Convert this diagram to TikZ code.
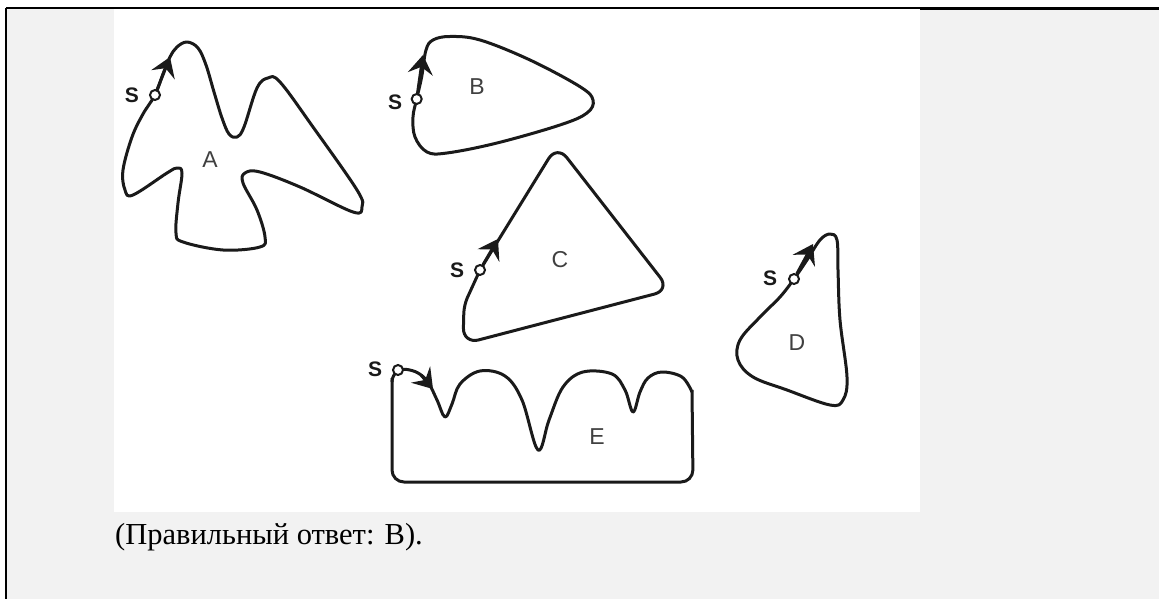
\documentclass[tikz,border=0pt]{standalone}
\usepackage{fontspec}
\setmainfont{Liberation Serif}
\setsansfont{Liberation Sans}
\usetikzlibrary{arrows.meta}
\definecolor{pagegray}{HTML}{F2F2F2}
\definecolor{ink}{HTML}{1A1A1A}
\begin{document}
\begin{tikzpicture}[x=1pt,y=-1pt,
  outline/.style={draw=ink,line width=3pt,line join=round},
  startpt/.style={circle,draw=ink,fill=white,line width=2pt,minimum size=10pt,inner sep=0pt},
  arr/.style={draw=ink,line width=3pt,-{Stealth[length=19pt,width=25pt,inset=7pt]}},
  slabel/.style={font=\sffamily\bfseries\fontsize{21}{21}\selectfont,text=ink,inner sep=0pt},
  flabel/.style={font=\sffamily\fontsize{23}{23}\selectfont,text=black!75,inner sep=0pt}]
\useasboundingbox (0,0) rectangle (1159,599);
\fill[white] (0,0) rectangle (1159,599);
\fill[pagegray] (6,8) rectangle (1159,599);
\fill[white] (114,9) rectangle (920,512);
\draw[black,line width=2pt] (6,8) -- (920,8);
\draw[black,line width=3pt] (920,8.8) -- (1159,8.8);
\draw[black,line width=2pt] (6,8) -- (6,599);

% Shape A
\draw[outline] plot[smooth cycle,tension=0.6] coordinates {
 (155,95)(163,74)(170,57)(177,47)(187,42)(198,48)(206,65)(214,92)(222,118)(229,134)(237,137)(244,127)(257,88)(268,78)(280,82)(313,127)(357,190)(362,207)(353,212)(300,187)(260,172)(245,173)(243,183)(257,210)(265,237)(260,247)(223,250)(183,242)(176,233)(178,203)(182,173)(177,168)(167,173)(133,195)(125,190)(123,170)(132,137)(143,114)};
% Shape B
\draw[outline] plot[smooth cycle,tension=0.6] coordinates {
 (416.7,99)(421.7,76.7)(426,50)(433,40)(450,36.5)(480,40)(530,60)(580,86.7)(593,100)(587,113)(560,125)(497,143)(447,153)(427,152)(415,137)(413,117)};
% Shape C
\draw[outline,rounded corners=16pt] (480,270) -- (557,145) -- (670,290) -- (463,344) [rounded corners=8pt] -- (464,305) -- cycle;
% Shape D
\draw[outline] plot[smooth cycle,tension=0.6] coordinates {
 (794,279)(807,260)(820,240)(830,234)(837,240)(838,270)(840,320)(847,377)(843,400)(830,405)(787,390)(753,377)(738,360)(740,340)(760,317)(780,297)};
% Shape E
\draw[outline] plot[smooth,tension=0.6] coordinates {
 (398,370)(407,369.5)(418,373)(428,382)(437,400)(445,417)(452,404)(460,384)(480,371)(505,376)(522,400)(538,450)(549,420)(563,387)(583,372)(612,374)(625,390)(633,412)(640,392)(648,378)(662,372)(682,377)(692,392)};
\draw[outline,rounded corners=12pt] (692,390) -- (693,482) -- (392,482) -- (392,378);
\draw[outline] (392,382) to[out=90,in=230] (398,370);

% arrows
\coordinate (tA) at (170,57);
\coordinate (tB) at (423,55);
\coordinate (tC) at (498,239);
\coordinate (tD) at (813,244);
\coordinate (tE) at (433,389);
\node[startpt] (sA) at (155,95) {};
\node[startpt] (sB) at (416.7,99) {};
\node[startpt] (sC) at (480,270) {};
\node[startpt] (sD) at (794,279) {};
\node[startpt] (sE) at (398,370) {};
\draw[arr] (sA) -- (tA);
\draw[arr] (sB) -- (tB);
\draw[arr] (sC) -- (tC);
\draw[arr] (sD) -- (tD);
\draw[arr] (421,375) -- (tE);

% S labels
\node[slabel] (lsA) at (132,95) {S};
\node[slabel] (lsB) at (395,102) {S};
\node[slabel] (lsC) at (457,270) {S};
\node[slabel] (lsD) at (770,278) {S};
\node[slabel] (lsE) at (375,369) {S};

% figure labels
\node[flabel] (nA) at (210,160) {A};
\node[flabel] (nB) at (477,87) {B};
\node[flabel] (nC) at (560,260) {C};
\node[flabel] (nD) at (797,343) {D};
\node[flabel] (nE) at (597,437) {E};

\node[anchor=base west,inner sep=0pt,font=\fontsize{30.5}{36}\selectfont] (cap) at (115,544) {(Правильный ответ: B).};
\end{tikzpicture}
\end{document}
